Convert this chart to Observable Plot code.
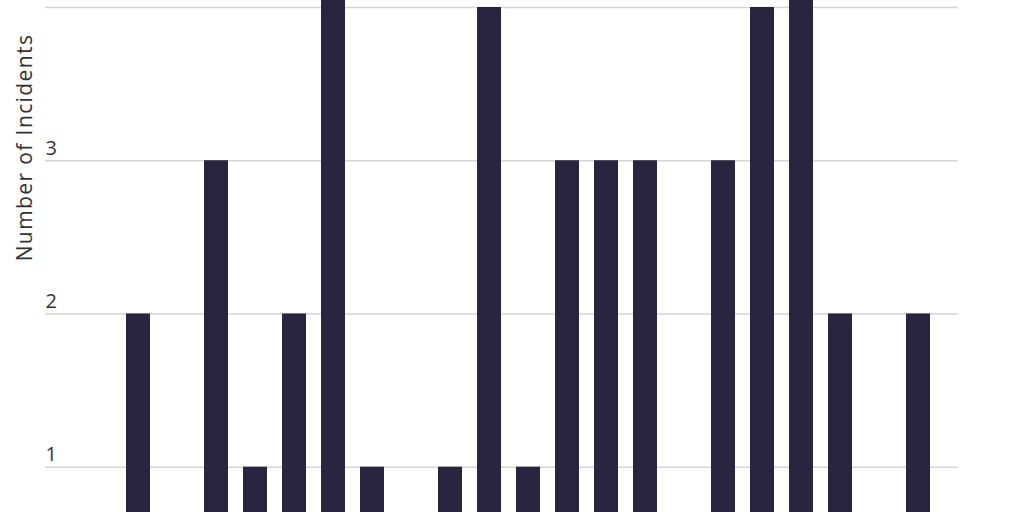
<!DOCTYPE html>
<html>
<head>
<meta charset="utf-8">
<script src="https://cdn.jsdelivr.net/npm/d3@7"></script>
<script src="https://cdn.jsdelivr.net/npm/@observablehq/plot@0.6"></script>
<style>
  html, body { margin: 0; padding: 0; background: #fff; }
  #chart { width: 1024px; height: 512px; overflow: hidden; }
  #chart svg { display: block; overflow: hidden; }
</style>
</head>
<body>
<div id="chart"></div>
<script>
const years = ["2002","2003","2004","2005","2006","2007","2008","2009","2010","2011","2012","2013","2014","2015","2016","2017","2018","2019","2020","2021","2022"];
const incidents = [2, 0, 3, 1, 2, 5, 1, 0, 1, 4, 1, 3, 3, 3, 0, 3, 4, 5, 2, 0, 2];
const gridTicks = [1, 2, 3, 4];
const labelTicks = [1, 2, 3];
const yLabel = "Number of Incidents";

const data = years.map((y, i) => ({year: y, count: incidents[i]}));
const font = "'Open Sans', sans-serif";

const chart = Plot.plot({
  width: 1024,
  height: 512,
  marginTop: 0,
  marginBottom: 0,
  marginLeft: 45,
  marginRight: 66,
  style: {fontFamily: font, background: "#fff"},
  x: {type: "band", domain: years, range: [125, 930.5], paddingInner: 0.395, paddingOuter: 0, align: 0.5, axis: null},
  y: {domain: [0, 4], range: [619.9, 7], axis: null},
  marks: [
    Plot.ruleY(gridTicks, {y: d => d, stroke: "#d5d5d5", strokeWidth: 1.6}),
    Plot.text(labelTicks, {y: d => d, text: d => String(d), frameAnchor: "left", textAnchor: "start", lineAnchor: "bottom", dy: -6, fontSize: 20, fontWeight: 400, fill: "#333"}),
    Plot.barY(data, {x: "year", y: "count", fill: "#29243f", clip: true}),
    Plot.text([yLabel], {text: d => d, frameAnchor: "left", dx: -20, dy: -109, rotate: -90, textAnchor: "middle", fontSize: 21, fontWeight: 400, fill: "#333"})
  ]
});
d3.select(chart).selectAll("text")
  .filter(function() { return this.textContent === yLabel; })
  .attr("letter-spacing", "1.4px")
  .style("letter-spacing", "1.4px");
document.getElementById("chart").append(chart);
</script>
</body>
</html>
